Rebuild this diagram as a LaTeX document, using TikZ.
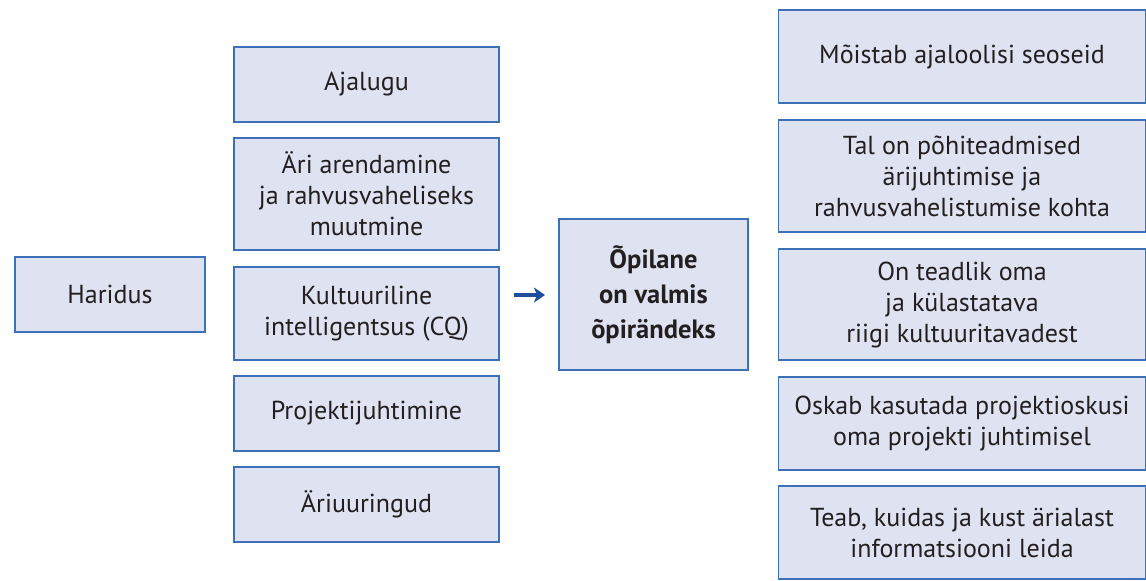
\documentclass[tikz,border=0pt]{standalone}
\usepackage{fontspec}
\setmainfont{PT Sans}
\usetikzlibrary{arrows.meta}
\definecolor{boxfill}{HTML}{DFE3F1}
\definecolor{boxline}{HTML}{3C70B8}
\definecolor{arrowc}{HTML}{1F4E9C}
\definecolor{txt}{HTML}{231F20}
\tikzset{
  box/.style={draw=boxline, fill=boxfill, line width=1.3pt, inner sep=0pt, align=center,
    text=txt, font=\fontsize{26}{31}\selectfont},
  bigbox/.style={box, font=\fontsize{26.5}{35}\selectfont\bfseries},
  flow/.style={draw=arrowc, line width=3.5pt, -{Stealth[length=11pt,width=15pt,inset=3pt]}}
}
\begin{document}
\begin{tikzpicture}[x=1pt,y=-1pt]
\useasboundingbox (0,0) rectangle (1146,581);
% left
\node[box, minimum width=190pt, minimum height=75pt] (har) at (110,294.5) {Haridus};
% middle column
\node[box, minimum width=265pt, minimum height=75pt] (aja) at (366.5,84.5) {Ajalugu};
\node[box, minimum width=265pt, minimum height=112pt] (ari) at (366.5,194) {Äri arendamine\\ja rahvusvaheliseks\\muutmine};
\node[box, minimum width=265pt, minimum height=93pt] (kul) at (366.5,313.5) {Kultuuriline\\intelligentsus (CQ)};
\node[box, minimum width=265pt, minimum height=75pt] (pro) at (366.5,413.5) {Projektijuhtimine};
\node[box, minimum width=265pt, minimum height=75pt] (aru) at (366.5,504.5) {Äriuuringud};
% arrow
\coordinate (a1) at (514,295);
\coordinate (a2) at (545,295);
\draw[flow] (a1) -- (a2);
% center
\node[bigbox, minimum width=189pt, minimum height=151pt] (opi) at (653.5,294.5) {Õpilane\\on valmis\\õpirändeks};
% right column
\node[box, minimum width=367pt, minimum height=93pt] (r1) at (962,56.5) {Mõistab ajaloolisi seoseid};
\node[box, minimum width=367pt, minimum height=112pt] (r2) at (962,176) {Tal on põhiteadmised\\ärijuhtimise ja\\rahvusvahelistumise kohta};
\node[box, minimum width=367pt, minimum height=111pt] (r3) at (962,304.5) {On teadlik oma\\ja külastatava\\riigi kultuuritavadest};
\node[box, minimum width=367pt, minimum height=93pt] (r4) at (962,423.5) {Oskab kasutada projektioskusi\\oma projekti juhtimisel};
\node[box, minimum width=367pt, minimum height=93pt] (r5) at (962,532.5) {Teab, kuidas ja kust ärialast\\informatsiooni leida};
\end{tikzpicture}
\end{document}
